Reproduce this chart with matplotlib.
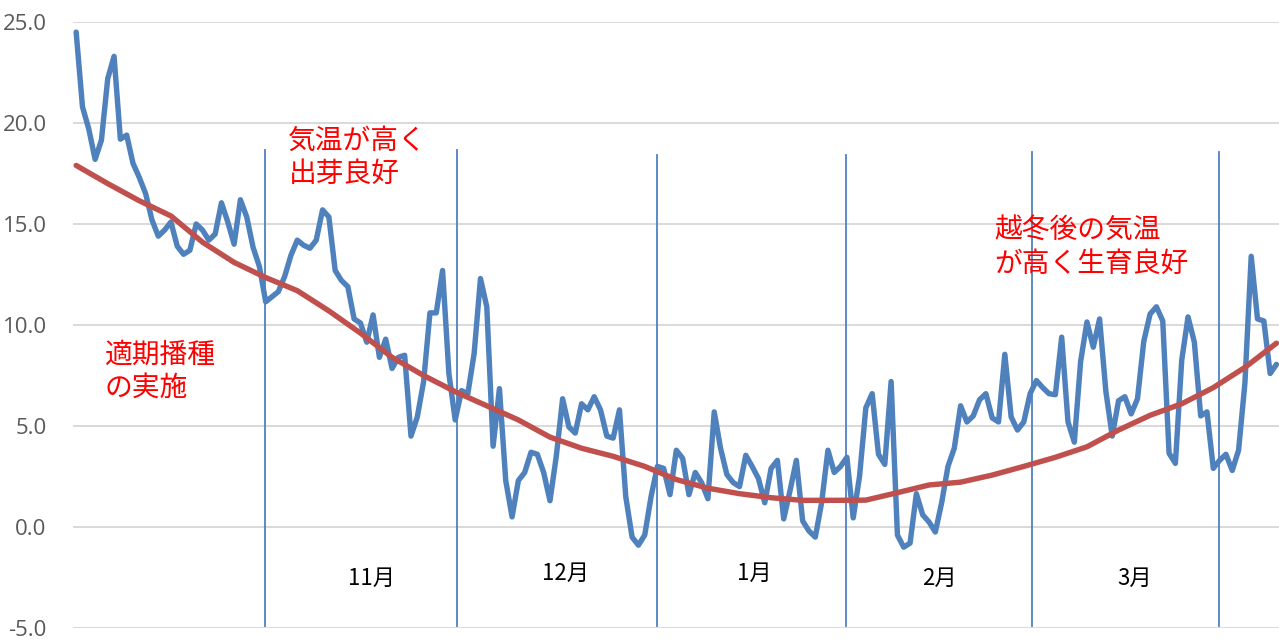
import matplotlib
matplotlib.use("Agg")
import matplotlib.pyplot as plt

plt.rcParams['font.family'] = ['Noto Sans CJK JP', 'DejaVu Sans']

# Daily mean temperature (index 0 = early October)
temps = [24.5, 20.8, 19.7, 18.2, 19.15, 22.2, 23.3, 19.2, 19.4, 18.0,
         17.3, 16.5, 15.2, 14.4, 14.7, 15.1, 13.9, 13.5, 13.7, 15.0,
         14.7, 14.2, 14.5, 16.05, 15.1, 14.0, 16.2, 15.35, 13.85, 12.9,
         11.15, 11.4, 11.65, 12.4, 13.45, 14.2, 13.95, 13.8, 14.2, 15.7,
         15.35, 12.7, 12.2, 11.9, 10.3, 10.1, 9.15, 10.5, 8.4, 9.3,
         7.85, 8.4, 8.5, 4.5, 5.45, 7.2, 10.6, 10.6, 12.7, 7.6,
         5.3, 6.75, 6.6, 8.6, 12.3, 10.9, 4.0, 6.85, 2.3, 0.5,
         2.3, 2.7, 3.7, 3.6, 2.7, 1.3, 3.5, 6.35, 4.95, 4.65,
         6.1, 5.8, 6.45, 5.8, 4.5, 4.4, 5.8, 1.5, -0.5, -0.9,
         -0.4, 1.5, 3.0, 2.9, 1.6, 3.8, 3.4, 1.6, 2.7, 2.2,
         1.4, 5.7, 3.9, 2.6, 2.2, 2.0, 3.55, 3.0, 2.4, 1.2,
         2.9, 3.3, 0.4, 1.8, 3.3, 0.3, -0.2, -0.5, 1.2, 3.8,
         2.7, 3.0, 3.45, 0.45, 2.5, 5.9, 6.6, 3.6, 3.1, 7.2,
         -0.4, -1.0, -0.8, 1.65, 0.6, 0.25, -0.25, 1.2, 3.0, 3.9,
         6.0, 5.2, 5.5, 6.3, 6.6, 5.4, 5.2, 8.55, 5.45, 4.8,
         5.2, 6.6, 7.25, 6.9, 6.6, 6.55, 9.4, 5.2, 4.2, 8.2,
         10.15, 8.9, 10.3, 6.7, 4.5, 6.25, 6.45, 5.6, 6.35, 9.2,
         10.55, 10.9, 10.2, 3.65, 3.15, 8.25, 10.4, 9.15, 5.5, 5.7,
         2.9, 3.3, 3.6, 2.8, 3.8, 7.1, 13.4, 10.3, 10.2, 7.6,
         8.05]
days = list(range(len(temps)))

# Normal (average-year) temperature curve, read every 5 days
normal_days = list(range(0, 191, 5))
normal_vals = [17.9, 17.0, 16.15, 15.4, 14.1, 13.1, 12.35, 11.7, 10.7, 9.6,
               8.4, 7.5, 6.7, 6.0, 5.3, 4.45, 3.9, 3.5, 3.0, 2.35,
               1.92, 1.65, 1.45, 1.32, 1.32, 1.33, 1.7, 2.08, 2.22, 2.57,
               3.0, 3.45, 3.97, 4.8, 5.53, 6.1, 6.9, 7.9, 9.1]

# Month separators and labels
month_lines = [29.9, 60.3, 91.9, 121.8, 151.3, 180.9]
month_line_tops = [18.65, 18.65, 18.4, 18.4, 18.55, 18.55]
month_labels = ['11月', '12月', '1月', '2月', '3月']
month_label_x = [46.8, 77.5, 107.4, 136.7, 167.6]
month_label_y = [-2.54, -2.29, -2.29, -2.54, -2.54]

yticks = [25, 20, 15, 10, 5, 0, -5]

notes = ['気温が高く\n出芽良好', '適期播種\nの実施', '越冬後の気温\nが高く生育良好']
note_x = [33.6, 4.5, 145.3]
note_y = [19.85, 9.25, 15.4]

W, H = 1279, 639
fig = plt.figure(figsize=(W / 100, H / 100), dpi=100)
ax = fig.add_axes([73 / W, (H - 628) / H, (W - 73) / W, (628 - 22) / H])

ax.set_xlim(-0.5, 190.4)
ax.set_ylim(-5, 25)
ax.set_yticks(yticks)
ax.set_yticklabels([f"{v:.1f}" for v in yticks])
ax.set_xticks([])
for s in ax.spines.values():
    s.set_visible(False)
ax.tick_params(axis='y', length=0, pad=19, labelsize=16, labelcolor='#595959')
for t in ax.get_yticklabels():
    t.set_family(['Open Sans', 'DejaVu Sans'])
ax.grid(axis='y', color='#D9D9D9', linewidth=1.4)
ax.set_axisbelow(True)

for xv, top in zip(month_lines, month_line_tops):
    ax.plot([xv, xv], [-4.9, top], color='#4F81BD', linewidth=1.3, zorder=2)

ax.plot(days, temps, color='#4F81BD', linewidth=3.9, zorder=3,
        solid_joinstyle='round', solid_capstyle='round')
ax.plot(normal_days, normal_vals, color='#C0504D', linewidth=3.9, zorder=4,
        solid_joinstyle='round', solid_capstyle='round')

for lab, xv, yv in zip(month_labels, month_label_x, month_label_y):
    ax.text(xv, yv, lab, ha='center', va='center', fontsize=16, color='black')

for txt, xv, yv in zip(notes, note_x, note_y):
    ax.text(xv, yv, txt, ha='left', va='top', fontsize=20, color='#FF0000',
            linespacing=1.12)

fig.savefig('out.png', dpi=100)
